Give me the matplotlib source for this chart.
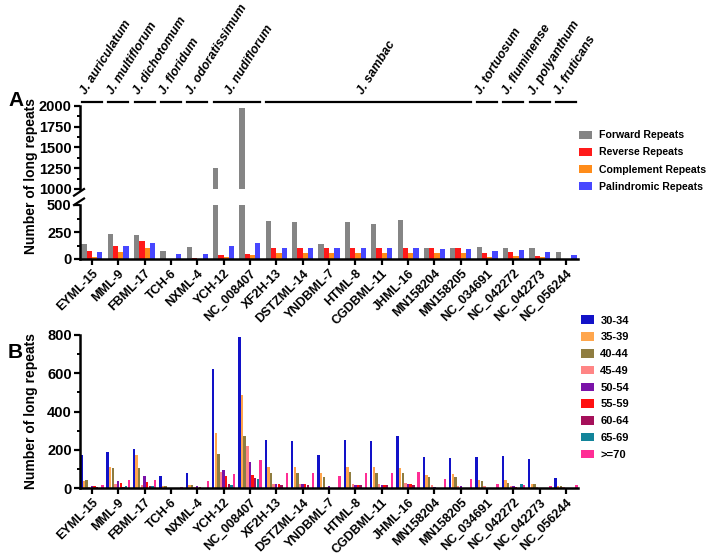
import numpy as np
import matplotlib.pyplot as plt
from matplotlib.transforms import blended_transform_factory

plt.rcParams['font.family'] = 'Liberation Sans'
plt.rcParams['font.weight'] = 'bold'
plt.rcParams['axes.labelweight'] = 'bold'

# --- data ---
samples = ['EYML-15', 'MML-9', 'FBML-17', 'TCH-6', 'NXML-4', 'YCH-12', 'NC_008407',
           'XF2H-13', 'DSTZML-14', 'YNDBML-7', 'HTML-8', 'CGDBML-11', 'JHML-16',
           'MN158204', 'MN158205', 'NC_034691', 'NC_042272', 'NC_042273', 'NC_056244']

species = ['J. auriculatum', 'J. multiflorum', 'J. dichotomum', 'J. floridum',
           'J. odoratissimum', 'J. nudiflorum', 'J. sambac', 'J. tortuosum',
           'J. fluminense', 'J. polyanthum', 'J. fruticans']
species_n = [1, 1, 1, 1, 1, 2, 8, 1, 1, 1, 1]

forward = [141, 235, 225, 78, 115, 1250, 1980, 350, 344, 141, 344, 322, 360, 106, 100, 115, 103, 100, 69]
reverse = [78, 118, 165, 0, 5, 40, 43, 100, 100, 100, 100, 100, 100, 100, 100, 56, 69, 28, 0]
complement = [15, 62, 100, 0, 0, 18, 40, 60, 60, 60, 60, 60, 60, 60, 60, 22, 31, 15, 0]
palindromic = [62, 125, 150, 47, 47, 125, 147, 100, 100, 100, 100, 100, 100, 94, 94, 78, 85, 69, 34]

a_labels = ['Forward Repeats', 'Reverse Repeats', 'Complement Repeats', 'Palindromic Repeats']
a_colors = ['#858585', '#ff1a1a', '#ff8c1a', '#4747ff']

len_labels = ['30-34', '35-39', '40-44', '45-49', '50-54', '55-59', '60-64', '65-69', '>=70']
len_colors = ['#1212c8', '#ffa64d', '#8f7d40', '#ff8585', '#7a12a8',
              '#ff1010', '#a5105a', '#12849a', '#ff2d95']
b30 = [172, 190, 202, 61, 79, 623, 790, 251, 247, 175, 251, 247, 272, 161, 156, 161, 167, 151, 54]
b35 = [37, 110, 172, 12, 18, 286, 488, 110, 110, 77, 110, 110, 105, 70, 72, 42, 40, 19, 12]
b40 = [40, 102, 102, 12, 18, 177, 272, 81, 81, 58, 82, 79, 81, 56, 56, 35, 26, 23, 9]
b45 = [5, 23, 14, 0, 5, 84, 219, 23, 23, 5, 23, 23, 25, 14, 12, 9, 9, 5, 5]
b50 = [12, 35, 61, 0, 9, 93, 137, 19, 19, 12, 18, 18, 19, 7, 9, 0, 9, 0, 0]
b55 = [12, 28, 30, 0, 5, 63, 67, 19, 19, 0, 16, 18, 19, 0, 0, 0, 7, 0, 0]
b60 = [5, 5, 9, 0, 0, 23, 53, 14, 14, 0, 14, 14, 14, 0, 0, 0, 0, 0, 0]
b65 = [2, 9, 9, 0, 0, 18, 46, 0, 0, 0, 0, 0, 0, 0, 0, 0, 23, 0, 0]
b70 = [18, 40, 40, 5, 35, 75, 144, 79, 79, 63, 79, 77, 82, 46, 46, 23, 14, 9, 16]

x = np.arange(len(samples))
xlim = (-0.45, len(samples) - 0.55)

fig = plt.figure(figsize=(7.08, 5.58), dpi=100)
W, H = 708, 558

def frac(l, t, r, b):
    return [l / W, 1 - b / H, (r - l) / W, (b - t) / H]

ax_lo = fig.add_axes(frac(80, 205, 578, 259))
ax_hi = fig.add_axes(frac(80, 106, 578, 189))
ax_b = fig.add_axes(frac(80, 335, 578, 488))

def style(ax):
    for s in ['top', 'right']:
        ax.spines[s].set_visible(False)
    for s in ['left', 'bottom']:
        ax.spines[s].set_linewidth(1.8)
    ax.tick_params(width=1.6, length=4, pad=2, labelsize=10.5)
    ax.tick_params(which='minor', width=1.4, length=2.5)
    ax.set_xlim(*xlim)

# --- panel A ---
a_series = [forward, reverse, complement, palindromic]
for ax in (ax_lo, ax_hi):
    style(ax)
    for i, (vals, c, lab) in enumerate(zip(a_series, a_colors, a_labels)):
        ax.bar(x + (i - 1.5) * 0.2, vals, width=0.2, color=c, label=lab)

ax_lo.set_ylim(0, 500)
ax_lo.set_yticks([0, 250, 500])
ax_lo.set_yticks([125, 375], minor=True)
ax_lo.set_xticks(x)
ax_lo.set_xticklabels(samples, rotation=45, ha='right', rotation_mode='anchor', fontsize=9)

ax_hi.set_ylim(1000, 2000)
ax_hi.set_yticks([1000, 1250, 1500, 1750, 2000])
ax_hi.set_yticks([1125, 1375, 1625, 1875], minor=True)
ax_hi.spines['bottom'].set_visible(False)
ax_hi.set_xticks([])

# break marks
kw = dict(color='black', lw=1.6, clip_on=False)
ax_lo.plot([-0.012, 0.008], [1.0, 1.12], transform=ax_lo.transAxes, **kw)
ax_hi.plot([-0.012, 0.008], [-0.08, 0.0], transform=ax_hi.transAxes, **kw)

fig.text(31 / W, 1 - 176 / H, 'Number of long repeats', rotation=90, fontsize=10,
         fontweight='bold', ha='center', va='center')

# species brackets
trans = blended_transform_factory(ax_hi.transData, ax_hi.transAxes)
start = 0
for name, n in zip(species, species_n):
    x0, x1 = start - 0.38, start + n - 1 + 0.38
    ax_hi.plot([x0, x1], [1.05, 1.05], transform=trans, color='black', lw=1.6, clip_on=False)
    xc = (x0 + x1) / 2
    ax_hi.text(xc - 0.12, 1.11, name, transform=trans, rotation=58, ha='left', va='bottom',
               rotation_mode='anchor', fontsize=9, fontstyle='italic', fontweight='bold')
    start += n

h, l = ax_lo.get_legend_handles_labels()
fig.legend(h, l, loc='upper left', bbox_to_anchor=(575 / W, 1 - 126 / H), frameon=False,
           fontsize=7.6, handlelength=1.25, handleheight=0.8, handletextpad=0.6,
           labelspacing=0.68, borderaxespad=0)

fig.text(8 / W, 1 - 100 / H, 'A', fontsize=15, fontweight='bold', va='center')

# --- panel B ---
style(ax_b)
b_series = [b30, b35, b40, b45, b50, b55, b60, b65, b70]
for i, (vals, c, lab) in enumerate(zip(b_series, len_colors, len_labels)):
    ax_b.bar(x + (i - 4) * 0.1, vals, width=0.09, color=c, label=lab)
ax_b.set_ylim(0, 800)
ax_b.set_yticks([0, 200, 400, 600, 800])
ax_b.set_yticks([100, 300, 500, 700], minor=True)
ax_b.set_xticks(x)
ax_b.set_xticklabels(samples, rotation=45, ha='right', rotation_mode='anchor', fontsize=9)

fig.text(31 / W, 1 - 411 / H, 'Number of long repeats', rotation=90, fontsize=10,
         fontweight='bold', ha='center', va='center')

h, l = ax_b.get_legend_handles_labels()
fig.legend(h, l, loc='upper left', bbox_to_anchor=(577 / W, 1 - 311 / H), frameon=False,
           fontsize=8, handlelength=1.1, handleheight=0.8, handletextpad=0.6,
           labelspacing=0.6, borderaxespad=0)

fig.text(8 / W, 1 - 352 / H, 'B', fontsize=15, fontweight='bold', va='center')

fig.savefig('out.png', dpi=100)
